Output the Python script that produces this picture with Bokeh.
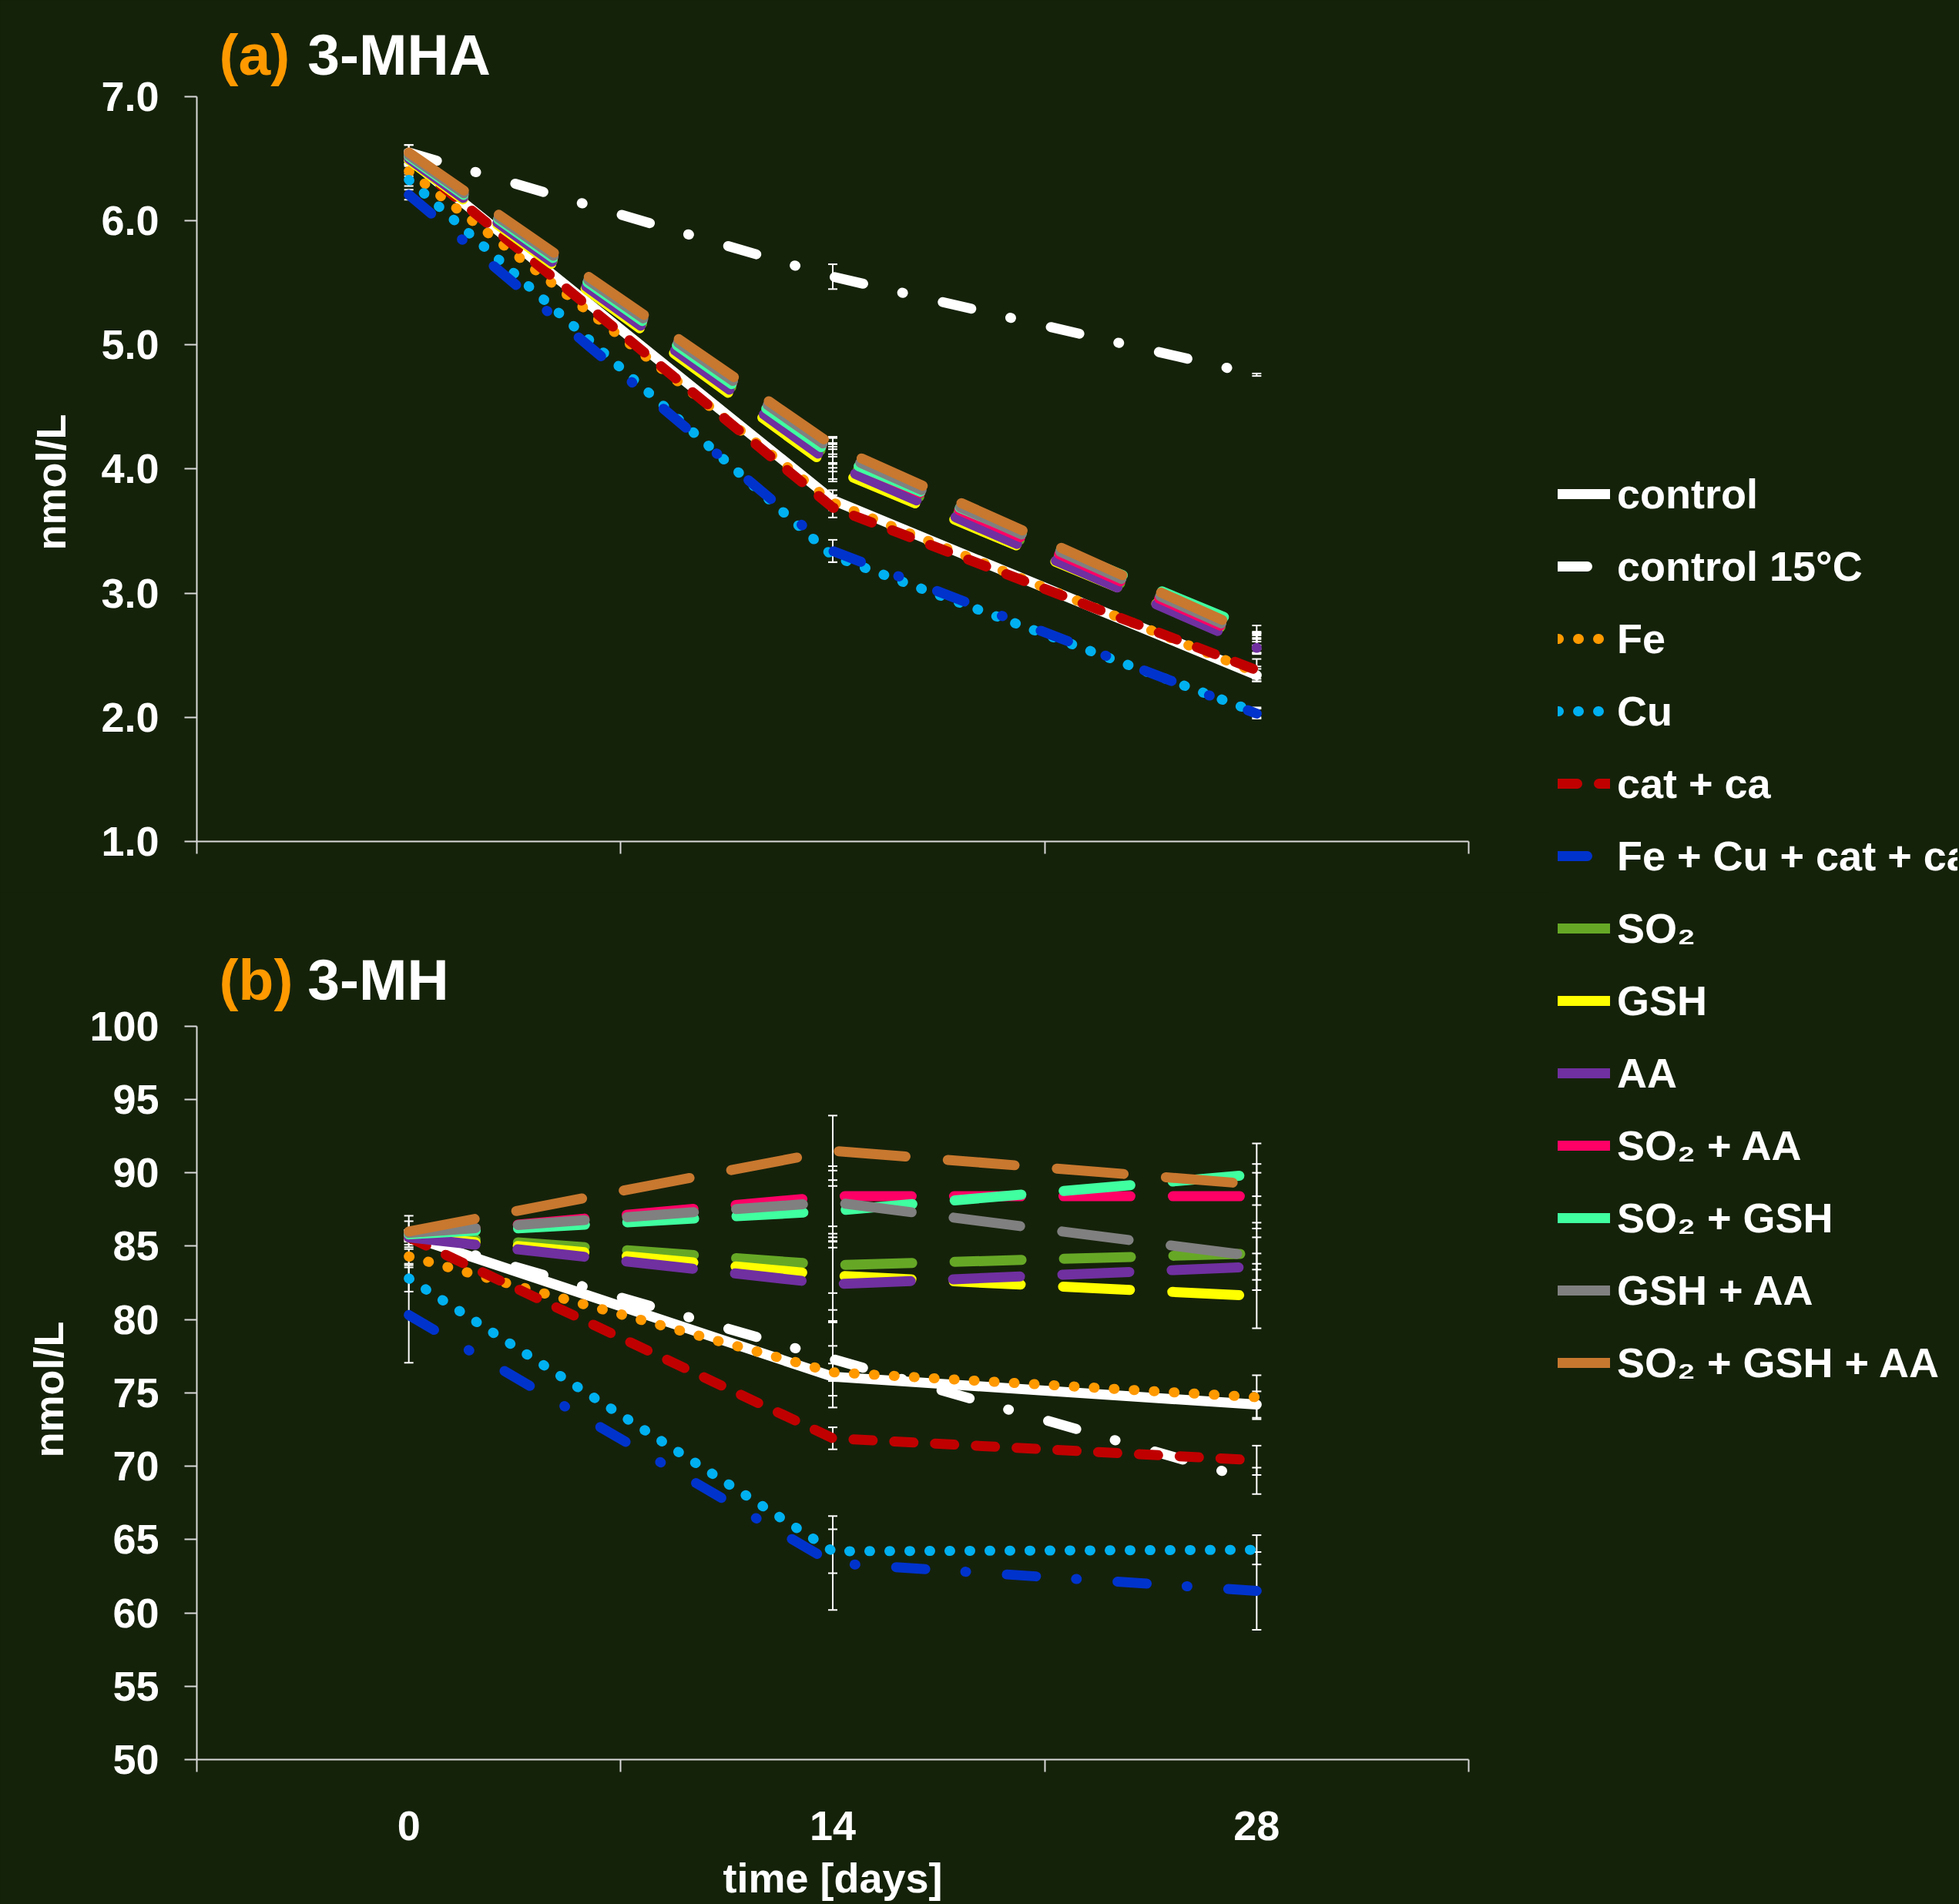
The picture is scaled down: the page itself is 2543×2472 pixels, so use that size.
from bokeh.plotting import figure
from bokeh.models import (FixedTicker, Legend, LegendItem, Whisker, TeeHead,
                          ColumnDataSource, Label, NumeralTickFormatter, Title)
from bokeh.layouts import column, row
from bokeh.embed import file_html
from bokeh.resources import INLINE

# ---------------- data ----------------
days = [0, 14, 28]
series_names = ["control", "control 15°C", "Fe", "Cu", "cat + ca",
                "Fe + Cu + cat + ca", "SO₂", "GSH", "AA", "SO₂ + AA",
                "SO₂ + GSH", "GSH + AA", "SO₂ + GSH + AA"]

# (a) 3-MHA  [nmol/L]
mha_control      = [6.50, 3.75, 2.34]
mha_control15    = [6.55, 5.55, 4.76]
mha_fe           = [6.40, 3.73, 2.36]
mha_cu           = [6.33, 3.30, 2.04]
mha_catca        = [6.50, 3.69, 2.38]
mha_fecucatca    = [6.21, 3.34, 2.03]
mha_so2          = [6.50, 4.08, 2.60]
mha_gsh          = [6.49, 4.00, 2.58]
mha_aa           = [6.50, 4.04, 2.56]
mha_so2aa        = [6.52, 4.12, 2.61]
mha_so2gsh       = [6.52, 4.11, 2.70]
mha_gshaa        = [6.53, 4.15, 2.63]
mha_so2gshaa     = [6.55, 4.19, 2.66]

mha_err_control   = [0.05, 0.08, 0.05]
mha_err_control15 = [0.06, 0.10, 0.01]
mha_err_fe        = [0.04, 0.06, 0.05]
mha_err_cu        = [0.05, 0.05, 0.04]
mha_err_catca     = [0.04, 0.08, 0.09]
mha_err_fecucatca = [0.04, 0.09, 0.04]
mha_err_so2       = [0.04, 0.10, 0.08]
mha_err_gsh       = [0.04, 0.10, 0.06]
mha_err_aa        = [0.04, 0.12, 0.05]
mha_err_so2aa     = [0.04, 0.08, 0.06]
mha_err_so2gsh    = [0.04, 0.10, 0.04]
mha_err_gshaa     = [0.04, 0.10, 0.05]
mha_err_so2gshaa  = [0.06, 0.07, 0.03]

# (b) 3-MH  [nmol/L]
mh_control      = [85.7, 76.1, 74.2]
mh_control15    = [85.7, 77.3, 69.0]
mh_fe           = [84.3, 76.4, 74.7]
mh_cu           = [82.8, 64.2, 64.3]
mh_catca        = [85.6, 71.9, 70.4]
mh_fecucatca    = [80.3, 63.4, 61.5]
mh_so2          = [85.8, 83.7, 84.5]
mh_gsh          = [85.7, 83.0, 81.6]
mh_aa           = [85.6, 82.4, 83.6]
mh_so2aa        = [85.8, 88.4, 88.4]
mh_so2gsh       = [85.8, 87.4, 89.9]
mh_gshaa        = [85.9, 88.0, 84.3]
mh_so2gshaa     = [86.0, 91.5, 89.2]

mh_err_control   = [0.3, 2.1, 0.9]
mh_err_control15 = [0.3, 2.5, 0.9]
mh_err_fe        = [0.5, 0.6, 1.5]
mh_err_cu        = [0.9, 1.5, 1.0]
mh_err_catca     = [0.3, 0.75, 1.0]
mh_err_fecucatca = [3.25, 3.2, 2.65]
mh_err_so2       = [0.3, 1.9, 1.1]
mh_err_gsh       = [0.3, 2.35, 2.2]
mh_err_aa        = [0.3, 2.5, 0.9]
mh_err_so2aa     = [0.3, 2.05, 2.2]
mh_err_so2gsh    = [0.3, 2.1, 2.1]
mh_err_gshaa     = [0.8, 2.15, 2.3]
mh_err_so2gshaa  = [1.07, 2.4, 0.8]

mha_ticks = [1, 2, 3, 4, 5, 6, 7]
mh_ticks = [50, 55, 60, 65, 70, 75, 80, 85, 90, 95, 100]
day_ticks = [0, 14, 28]
day_bounds = [-7, 7, 21, 35]

mha_values = [mha_control, mha_control15, mha_fe, mha_cu, mha_catca, mha_fecucatca,
              mha_so2, mha_gsh, mha_aa, mha_so2aa, mha_so2gsh, mha_gshaa, mha_so2gshaa]
mha_errors = [mha_err_control, mha_err_control15, mha_err_fe, mha_err_cu, mha_err_catca,
              mha_err_fecucatca, mha_err_so2, mha_err_gsh, mha_err_aa, mha_err_so2aa,
              mha_err_so2gsh, mha_err_gshaa, mha_err_so2gshaa]
mh_values = [mh_control, mh_control15, mh_fe, mh_cu, mh_catca, mh_fecucatca,
             mh_so2, mh_gsh, mh_aa, mh_so2aa, mh_so2gsh, mh_gshaa, mh_so2gshaa]
mh_errors = [mh_err_control, mh_err_control15, mh_err_fe, mh_err_cu, mh_err_catca,
             mh_err_fecucatca, mh_err_so2, mh_err_gsh, mh_err_aa, mh_err_so2aa,
             mh_err_so2gsh, mh_err_gshaa, mh_err_so2gshaa]

# ---------------- styles ----------------
BG = "#15220A"
AX = "#D9D9D9"
FONT = "Liberation Sans"
ORANGE = "#FF9900"

colors = ["#FFFFFF", "#FFFFFF", "#FF9900", "#00B0F0", "#C00000", "#0033CC",
          "#66A826", "#FFFF00", "#7030A0", "#FF0066", "#40FFA0", "#808080", "#C8782F"]
LONGDASH = "87 55"
DOT = "1 25"
DASH = "25 28"
LDD = "38 52 1 53"
dashes = ["solid", LDD, DOT, DOT, DASH, LDD,
          LONGDASH, LONGDASH, LONGDASH, LONGDASH, LONGDASH, LONGDASH, LONGDASH]
LW = 13

WC = 2010      # width of the two chart panels
WL = 531       # width of the legend panel
H1 = 1158
H2 = 1312
HT = H1 + H2
LEFT = 255
RIGHT = WC - 1906


def make_fig(h, top, bottom, yr, ybounds):
    p = figure(width=WC, height=h, x_range=(-7, 35), y_range=yr,
               output_backend="svg", toolbar_location=None,
               min_border_left=LEFT, min_border_right=RIGHT,
               min_border_top=top, min_border_bottom=bottom,
               background_fill_color=BG, border_fill_color=BG,
               outline_line_color=None)
    p.xgrid.visible = False
    p.ygrid.visible = False
    for ax in p.axis:
        ax.axis_line_color = AX
        ax.axis_line_width = 2
        ax.major_tick_line_color = AX
        ax.major_tick_line_width = 2
        ax.minor_tick_line_color = AX
        ax.minor_tick_line_width = 2
        ax.major_label_text_color = "white"
        ax.major_label_text_font = FONT
        ax.major_label_text_font_style = "bold"
        ax.major_label_text_font_size = "54px"
        ax.axis_label_text_color = "white"
        ax.axis_label_text_font = FONT
        ax.axis_label_text_font_style = "bold"
        ax.axis_label_text_font_size = "54px"
    p.xaxis.major_tick_out = 0
    p.xaxis.major_tick_in = 0
    p.xaxis.minor_tick_out = 16
    p.xaxis.minor_tick_in = 0
    p.yaxis.major_tick_out = 16
    p.yaxis.major_tick_in = 0
    p.yaxis.minor_tick_out = 0
    p.yaxis.minor_tick_in = 0
    p.yaxis.major_label_standoff = 33
    p.yaxis.bounds = ybounds
    return p


def add_ylabel(p, offset, standoff):
    p.add_layout(Title(text="nmol/L", align="left", offset=offset, standoff=standoff,
                       text_color="white", text_font=FONT, text_font_style="bold",
                       text_font_size="54px"), "left")


def draw_panel(p, values, errors):
    renderers = []
    base, upper, lower = [], [], []
    for vals, errs in zip(values, errors):
        for d, v, e in zip(days, vals, errs):
            base.append(d)
            upper.append(v + e)
            lower.append(v - e)
    src = ColumnDataSource(dict(base=base, upper=upper, lower=lower))
    wh = Whisker(source=src, base="base", upper="upper", lower="lower",
                 line_color="white", line_width=2, level="underlay",
                 upper_head=TeeHead(size=12, line_color="white", line_width=2),
                 lower_head=TeeHead(size=12, line_color="white", line_width=2))
    p.add_layout(wh)
    for vals, c, dsh in zip(values, colors, dashes):
        r = p.line(days, vals, line_color=c, line_width=LW, line_dash=dsh,
                   line_cap="round", line_join="round")
        renderers.append(r)
    return renderers


def add_title(p, tag, name, y, x_tag, x_name):
    p.add_layout(Label(x=x_tag, y=y, text=tag, text_color=ORANGE, text_font=FONT,
                       text_font_style="bold", text_font_size="75px",
                       text_baseline="alphabetic", text_align="left"))
    p.add_layout(Label(x=x_name, y=y, text=name, text_color="white", text_font=FONT,
                       text_font_style="bold", text_font_size="75px",
                       text_baseline="alphabetic", text_align="left"))


# ---------------- panel (a) ----------------
# frame extended above 7.0 so the panel title sits inside it; axis bounded to 1..7
p1 = make_fig(H1, 20, H1 - 1092, (1, 7 + 105 / 161.17), (1, 7))
p1.xaxis.ticker = FixedTicker(ticks=[], minor_ticks=day_bounds)
p1.yaxis.ticker = FixedTicker(ticks=mha_ticks)
p1.yaxis.formatter = NumeralTickFormatter(format="0.0")
add_ylabel(p1, 378, 66)
draw_panel(p1, mha_values, mha_errors)
add_title(p1, "(a)", "3-MHA", 7.34, -6.26, -3.34)

# ---------------- panel (b) ----------------
p2_top = 1215 - H1
p2 = make_fig(H2, p2_top, HT - 2287, (50, 100 + 117 / 19.1), (50, 100))
p2.xaxis.ticker = FixedTicker(ticks=day_ticks, minor_ticks=day_bounds)
p2.xaxis.major_label_standoff = 51
p2.xaxis.axis_label = "time [days]"
p2.xaxis.axis_label_standoff = 16
p2.yaxis.ticker = FixedTicker(ticks=mh_ticks)
p2.yaxis.formatter = NumeralTickFormatter(format="0")
add_ylabel(p2, 392, 42)
draw_panel(p2, mh_values, mh_errors)
add_title(p2, "(b)", "3-MH", 103.14, -6.26, -3.34)

# ---------------- legend panel ----------------
# the legend's own lines use the panel-(a) data, kept outside this panel's view
p3 = figure(width=WL, height=HT, x_range=(100, 101), y_range=(100, 101),
            output_backend="svg", toolbar_location=None,
            x_axis_location=None, y_axis_location=None,
            min_border=0, background_fill_color=BG, border_fill_color=BG,
            outline_line_color=None)
p3.xgrid.visible = False
p3.ygrid.visible = False
leg_r = []
for vals, c, dsh in zip(mha_values, colors, dashes):
    leg_r.append(p3.line(days, vals, line_color=c, line_width=LW, line_dash=dsh,
                         line_cap="round", line_join="round"))
legend = Legend(items=[LegendItem(label=n, renderers=[r]) for n, r in zip(series_names, leg_r)],
                location=(12, HT - 1801), orientation="vertical",
                glyph_width=68, glyph_height=64, label_height=64,
                label_standoff=9, spacing=30, padding=0, margin=0,
                border_line_color=None, background_fill_alpha=0,
                label_text_color="white", label_text_font=FONT,
                label_text_font_style="bold", label_text_font_size="54px")
p3.add_layout(legend)

layout = row(column(p1, p2, spacing=0), p3, spacing=0)

html = file_html(layout, INLINE)
html = html.replace("</head>", "<style>html, body { background-color: #15220A; }</style></head>", 1)
open("out.html", "w").write(html)
